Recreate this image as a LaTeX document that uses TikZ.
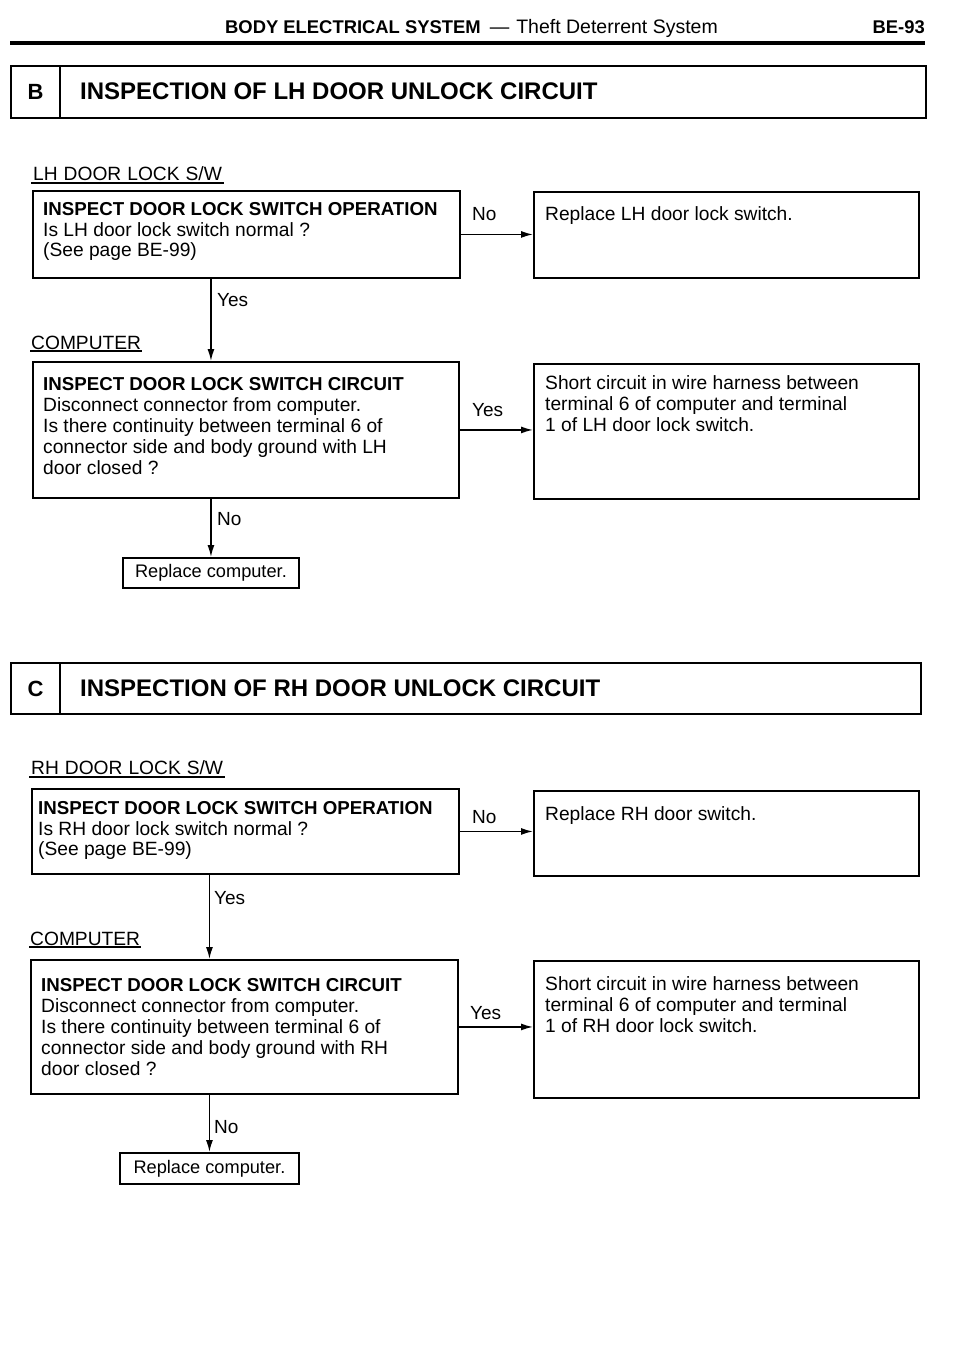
\documentclass[tikz,border=0pt]{standalone}
\usepackage{fontspec}
\setmainfont{Liberation Sans}
\usetikzlibrary{arrows.meta}
\begin{document}
\begin{tikzpicture}[x=1pt,y=-1pt,
  box/.style={draw=black, line width=1.9pt, rectangle, inner sep=0pt, anchor=north west},
  btxt/.style={anchor=north west, align=left, inner sep=0pt, font=\fontsize{19.2}{20.5}\selectfont},
  btxtw/.style={anchor=north west, align=left, inner sep=0pt, font=\fontsize{19.2}{21}\selectfont},
  lbl/.style={anchor=base west, inner sep=0pt, font=\fontsize{19}{20}\selectfont},
  ulbl/.style={anchor=base west, inner sep=0pt, text depth=0pt, font=\fontsize{19.2}{20}\selectfont},
  conn/.style={line width=1.5pt, -{Latex[length=12pt,width=7pt]}},
  uline/.style={line width=1.6pt},
  secfont/.style={font=\fontsize{24}{26}\selectfont\bfseries},
  letfont/.style={font=\fontsize{22}{24}\selectfont\bfseries},
  repl/.style={box, font=\fontsize{18.2}{20}\selectfont}
]
\fill[white] (0,0) rectangle (960,1346);
\useasboundingbox (0,0) rectangle (960,1346);

% page header
\node[anchor=base west, inner sep=0pt, font=\fontsize{19.5}{20}\selectfont] (hdr) at (225,33.5)
  {{\fontsize{18.4}{20}\selectfont\bfseries BODY ELECTRICAL SYSTEM}\hspace{9pt}\textemdash\hspace{7pt}Theft Deterrent System};
\node[anchor=base east, inner sep=0pt, font=\fontsize{18.4}{20}\selectfont\bfseries] (pg) at (925,33.5) {BE-93};
\coordinate (rl) at (10,43);
\coordinate (rr) at (925,43);
\draw[line width=4pt] (rl) -- (rr);

% ===== Section B =====
\node[box, letfont, minimum width=49pt, minimum height=52pt] (sBl) at (10,65) {B};
\node[box, minimum width=866pt, minimum height=52pt] (sBt) at (59,65) {};
\node[anchor=base west, inner sep=0pt, secfont] (sBtx) at (80,99.5) {INSPECTION OF LH DOOR UNLOCK CIRCUIT};

\node[ulbl] (lhsw) at (33,180) {LH\hspace{6pt}DOOR\hspace{6pt}LOCK\hspace{6pt}S/W};
\draw[uline] ([yshift=-2.5pt,xshift=-2pt]lhsw.south west) -- ([yshift=-2.5pt,xshift=2pt]lhsw.south east);

\node[box, minimum width=427pt, minimum height=87pt] (b1) at (32,190) {};
\node[btxt] (t1) at (43,202.5)
  {{\fontsize{18.7}{20.5}\selectfont\bfseries INSPECT DOOR LOCK SWITCH OPERATION}\\Is LH door lock switch normal ?\\(See page BE-99)};
\node[box, minimum width=385pt, minimum height=86pt] (b2) at (533,191) {};
\node[btxt] (t2) at (545,206) {Replace LH door lock switch.};
\draw[conn] (b1.east) -- (b2.west |- b1.east);
\node[lbl] (no1) at (472,220) {No};

\node[ulbl] (cp1) at (31,349) {COMPUTER};
\draw[uline] ([yshift=-2pt,xshift=-1pt]cp1.south west) -- ([yshift=-2pt,xshift=1pt]cp1.south east);

\node[box, minimum width=426pt, minimum height=136pt] (b3) at (32,361) {};
\node[btxtw] (t3) at (43,377.5)
  {{\fontsize{18.7}{21}\selectfont\bfseries INSPECT DOOR LOCK SWITCH CIRCUIT}\\Disconnect connector from computer.\\Is there continuity between terminal 6 of\\connector side and body ground with LH\\door closed ?};
\node[box, minimum width=385pt, minimum height=135pt] (b4) at (533,363) {};
\node[btxtw] (t4) at (545,375)
  {Short circuit in wire harness between\\terminal 6 of computer and terminal\\1 of LH door lock switch.};

\node[repl, minimum width=176pt, minimum height=30pt] (r1) at (122,557) {Replace computer.};

\draw[conn] (b1.south -| r1.north) -- (b3.north -| r1.north);
\node[lbl] (yes1) at (217,306.5) {Yes};
\draw[conn] (b3.east) -- (b4.west |- b3.east);
\node[lbl] (yes2) at (472,416.5) {Yes};
\draw[conn] (b3.south -| r1.north) -- (r1.north);
\node[lbl] (no2) at (217,525.5) {No};

% ===== Section C =====
\node[box, letfont, minimum width=49pt, minimum height=51pt] (sCl) at (10,662) {C};
\node[box, minimum width=861pt, minimum height=51pt] (sCt) at (59,662) {};
\node[anchor=base west, inner sep=0pt, secfont] (sCtx) at (80,696) {INSPECTION OF RH DOOR UNLOCK CIRCUIT};

\node[ulbl] (rhsw) at (31,774) {RH\hspace{6pt}DOOR\hspace{6pt}LOCK\hspace{6pt}S/W};
\draw[uline] ([yshift=-2.5pt,xshift=-2pt]rhsw.south west) -- ([yshift=-2.5pt,xshift=2pt]rhsw.south east);

\node[box, minimum width=427pt, minimum height=85pt] (b5) at (31,788) {};
\node[btxt] (t5) at (38,801.5)
  {{\fontsize{18.7}{20.5}\selectfont\bfseries INSPECT DOOR LOCK SWITCH OPERATION}\\Is RH door lock switch normal ?\\(See page BE-99)};
\node[box, minimum width=385pt, minimum height=85pt] (b6) at (533,790) {};
\node[btxt] (t6) at (545,806) {Replace RH door switch.};
\draw[conn] (b5.east) -- (b6.west |- b5.east);
\node[lbl] (no3) at (472,823.5) {No};

\node[ulbl] (cp2) at (30,945) {COMPUTER};
\draw[uline] ([yshift=-2pt,xshift=-1pt]cp2.south west) -- ([yshift=-2pt,xshift=1pt]cp2.south east);

\node[box, minimum width=427pt, minimum height=134pt] (b7) at (30,959) {};
\node[btxtw] (t7) at (41,978.5)
  {{\fontsize{18.7}{21}\selectfont\bfseries INSPECT DOOR LOCK SWITCH CIRCUIT}\\Disconnect connector from computer.\\Is there continuity between terminal 6 of\\connector side and body ground with RH\\door closed ?};
\node[box, minimum width=385pt, minimum height=137pt] (b8) at (533,960) {};
\node[btxtw] (t8) at (545,976)
  {Short circuit in wire harness between\\terminal 6 of computer and terminal\\1 of RH door lock switch.};

\node[repl, minimum width=179pt, minimum height=31pt] (r2) at (119,1152) {Replace computer.};

\draw[conn] (b5.south -| r2.north) -- (b7.north -| r2.north);
\node[lbl] (yes3) at (214,904.5) {Yes};
\draw[conn] (b7.east) -- (b8.west |- b7.east);
\node[lbl] (yes4) at (470,1019.5) {Yes};
\draw[conn] (b7.south -| r2.north) -- (r2.north);
\node[lbl] (no4) at (214,1133.5) {No};
\end{tikzpicture}
\end{document}
